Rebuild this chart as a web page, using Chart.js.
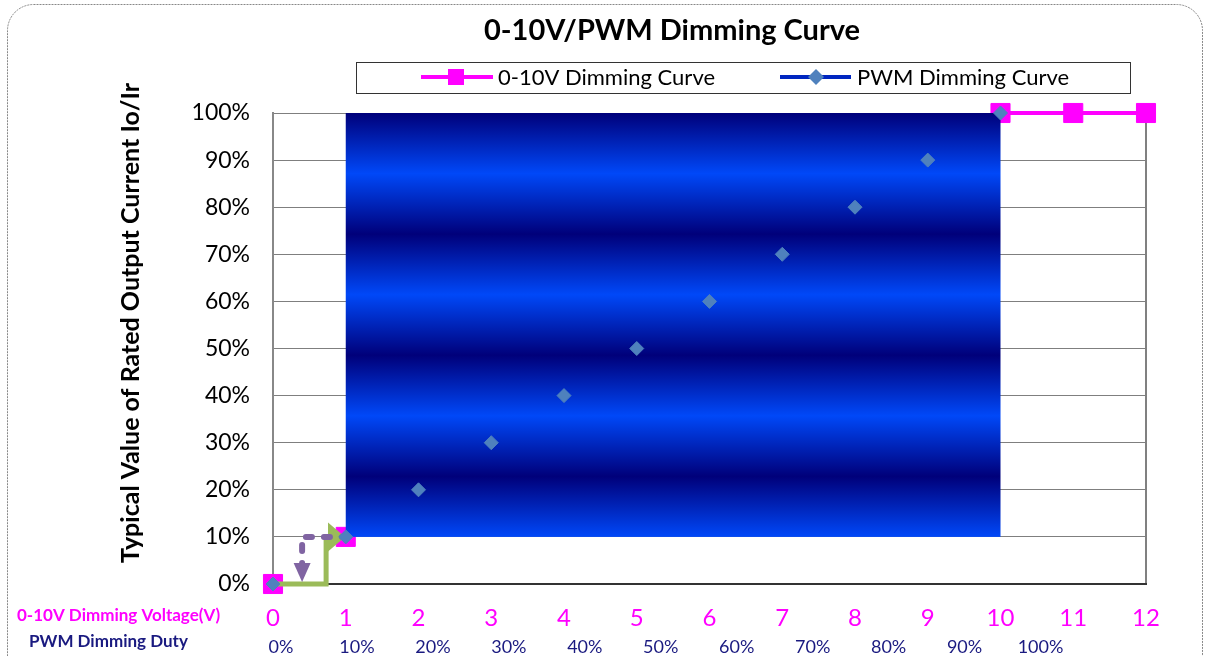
<!DOCTYPE html>
<html>
<head>
<meta charset="utf-8">
<script src="https://cdn.jsdelivr.net/npm/chart.js@4.4.1/dist/chart.umd.min.js"></script>
<style>
  html, body { margin: 0; padding: 0; background: #fff; }
  #wrap { width: 1205px; height: 656px; position: relative; }
</style>
</head>
<body>
<div id="wrap"><canvas id="dimmingChart"></canvas></div>
<script>
// values
var voltageSteps = [0, 1, 2, 3, 4, 5, 6, 7, 8, 9, 10, 11, 12];
var voltageCurve = [0, 0.1, 0.2, 0.3, 0.4, 0.5, 0.6, 0.7, 0.8, 0.9, 1, 1, 1];
var pwmSteps = [0, 1, 2, 3, 4, 5, 6, 7, 8, 9, 10];
var pwmCurve = [0, 0.1, 0.2, 0.3, 0.4, 0.5, 0.6, 0.7, 0.8, 0.9, 1];
var dutyLabels = ['0%', '10%', '20%', '30%', '40%', '50%', '60%', '70%', '80%', '90%', '100%'];
// shaded block and the two little arrows, in data units
var shadeX = [1, 10];
var shadeY = [0.1, 1];
var greenArrow = [[0, 0], [0.73, 0], [0.73, 0.1], [0.99, 0.1]];
var purpleArrow = [[1.03, 0.1], [0.4, 0.1], [0.4, 0.004]];

var FONT = 'Lato, "Open Sans", sans-serif';
var MAGENTA = '#ff00ff';
var NAVY = '#1a1a80';

function toPoints(xs, ys) {
    return xs.map(function (x, i) { return { x: x, y: ys[i] }; });
}

function drawArrow(ctx, chart, pts, color, width, dash, headLen, headHalf) {
    var xs = chart.scales.x, ys = chart.scales.y;
    var p = pts.map(function (d) { return [xs.getPixelForValue(d[0]), ys.getPixelForValue(d[1])]; });
    var tip = p[p.length - 1], prev = p[p.length - 2];
    var ang = Math.atan2(tip[1] - prev[1], tip[0] - prev[0]);
    var baseX = tip[0] - Math.cos(ang) * headLen, baseY = tip[1] - Math.sin(ang) * headLen;
    ctx.save();
    ctx.strokeStyle = color;
    ctx.lineWidth = width;
    ctx.lineJoin = 'miter';
    if (dash) { ctx.setLineDash(dash); ctx.lineCap = 'round'; }
    ctx.beginPath();
    ctx.moveTo(p[0][0], p[0][1]);
    for (var i = 1; i < p.length - 1; i++) ctx.lineTo(p[i][0], p[i][1]);
    ctx.lineTo(baseX, baseY);
    ctx.stroke();
    ctx.setLineDash([]);
    ctx.fillStyle = color;
    ctx.beginPath();
    ctx.moveTo(tip[0], tip[1]);
    ctx.lineTo(baseX - Math.sin(ang) * headHalf, baseY + Math.cos(ang) * headHalf);
    ctx.lineTo(baseX + Math.sin(ang) * headHalf, baseY - Math.cos(ang) * headHalf);
    ctx.closePath();
    ctx.fill();
    ctx.restore();
}

var decorPlugin = {
    id: 'decor',
    beforeDraw: function (chart) {
        var ctx = chart.ctx;
        ctx.save();
        ctx.fillStyle = '#fff';
        ctx.fillRect(0, 0, chart.width, chart.height);
        // dotted rounded frame
        ctx.strokeStyle = '#888';
        ctx.lineWidth = 1;
        ctx.setLineDash([2, 1]);
        ctx.beginPath();
        ctx.roundRect(7.5, 4.5, 1195, 700, 26);
        ctx.stroke();
        ctx.restore();
    },
    beforeDatasetDraw: function (chart, args) {
        if (args.index !== 1) return;
        var ctx = chart.ctx, xs = chart.scales.x, ys = chart.scales.y;
        var left = xs.getPixelForValue(shadeX[0]), right = xs.getPixelForValue(shadeX[1]);
        var top = ys.getPixelForValue(shadeY[1]), bottom = ys.getPixelForValue(shadeY[0]);
        var grad = ctx.createLinearGradient(0, top, 0, bottom);
        for (var i = 0; i <= 7; i++) {
            grad.addColorStop(i / 7, i % 2 === 0 ? '#00007a' : '#0048f8');
        }
        ctx.save();
        ctx.fillStyle = grad;
        ctx.fillRect(left, top, right - left, bottom - top);
        ctx.restore();
        drawArrow(ctx, chart, greenArrow, '#9bbb59', 5, null, 17, 14.5);
        drawArrow(ctx, chart, purpleArrow, '#8064a2', 6, [6, 12], 19, 8.5);
    },
    afterDraw: function (chart) {
        var ctx = chart.ctx, xs = chart.scales.x;
        ctx.save();
        // title
        ctx.fillStyle = '#000';
        ctx.textAlign = 'center';
        ctx.textBaseline = 'middle';
        ctx.font = 'bold 29px ' + FONT;
        ctx.fillText('0-10V/PWM Dimming Curve', 672, 31);

        // legend
        ctx.strokeStyle = '#333';
        ctx.lineWidth = 1;
        ctx.strokeRect(356.5, 62.5, 774, 31);
        ctx.font = '22px ' + FONT;
        ctx.textAlign = 'left';
        ctx.strokeStyle = MAGENTA;
        ctx.lineWidth = 4;
        ctx.beginPath(); ctx.moveTo(421, 77); ctx.lineTo(493, 77); ctx.stroke();
        ctx.fillStyle = MAGENTA;
        ctx.fillRect(448, 69, 16, 16);
        ctx.fillStyle = '#000';
        ctx.fillText('0-10V Dimming Curve', 498, 78);
        ctx.strokeStyle = '#0026c0';
        ctx.beginPath(); ctx.moveTo(780, 77); ctx.lineTo(851, 77); ctx.stroke();
        ctx.fillStyle = '#4f81bd';
        ctx.beginPath();
        ctx.moveTo(816, 69); ctx.lineTo(824, 77); ctx.lineTo(816, 85); ctx.lineTo(808, 77);
        ctx.closePath(); ctx.fill();
        ctx.fillStyle = '#000';
        ctx.fillText('PWM Dimming Curve', 857, 78);

        // y axis title
        ctx.save();
        ctx.translate(131, 323);
        ctx.rotate(-Math.PI / 2);
        ctx.textAlign = 'center';
        ctx.font = 'bold 25px ' + FONT;
        ctx.fillText('Typical Value of Rated Output Current Io/Ir', 0, 0);
        ctx.restore();

        // row captions under the axis
        ctx.textAlign = 'left';
        ctx.font = 'bold 17px ' + FONT;
        ctx.fillStyle = MAGENTA;
        ctx.fillText('0-10V Dimming Voltage(V)', 17, 616);
        ctx.fillStyle = NAVY;
        ctx.fillText('PWM Dimming Duty', 29, 642);

        // duty labels
        ctx.textAlign = 'center';
        ctx.font = '18px ' + FONT;
        dutyLabels.forEach(function (lbl, i) {
            ctx.fillText(lbl, xs.getPixelForValue(pwmSteps[i]) + 8 + 3.2 * i, 647);
        });
        ctx.restore();
    }
};

new Chart(document.getElementById('dimmingChart').getContext('2d'), {
    type: 'line',
    data: {
        datasets: [{
            label: '0-10V Dimming Curve',
            data: toPoints(voltageSteps, voltageCurve),
            borderColor: MAGENTA,
            backgroundColor: MAGENTA,
            borderWidth: 4,
            pointStyle: 'rect',
            pointRadius: 13.5,
            pointBorderWidth: 1,
            pointBorderColor: MAGENTA,
            pointBackgroundColor: MAGENTA,
            tension: 0,
            clip: false,
            segment: {
                borderColor: function (c) { return c.p0DataIndex === 0 ? 'rgba(0,0,0,0)' : undefined; }
            },
            order: 3
        }, {
            label: 'PWM Dimming Curve',
            data: toPoints(pwmSteps, pwmCurve),
            showLine: false,
            borderColor: '#0026c0',
            pointStyle: 'rectRot',
            pointRadius: 7,
            pointBorderWidth: 1,
            pointBorderColor: '#4f81bd',
            pointBackgroundColor: '#4f81bd',
            clip: false,
            order: 1
        }]
    },
    options: {
        responsive: true,
        maintainAspectRatio: false,
        animation: false,
        events: [],
        layout: { padding: { top: 113, right: 59, left: 0, bottom: 0 } },
        plugins: {
            legend: { display: false },
            title: { display: false },
            tooltip: { enabled: false }
        },
        scales: {
            x: {
                type: 'linear',
                min: 0,
                max: 12,
                ticks: {
                    stepSize: 1,
                    color: MAGENTA,
                    padding: 20,
                    font: { family: FONT, size: 24 }
                },
                grid: {
                    drawTicks: false,
                    lineWidth: 2,
                    color: function (c) { return c.tick && c.tick.value === 12 ? '#808080' : 'rgba(0,0,0,0)'; }
                },
                border: { color: '#333', width: 2 },
                afterFit: function (s) { s.height = 72; }
            },
            y: {
                min: 0,
                max: 1,
                ticks: {
                    stepSize: 0.1,
                    color: '#000',
                    padding: 23,
                    font: { family: FONT, size: 23 },
                    callback: function (v) { return Math.round(v * 100) + '%'; }
                },
                grid: { drawTicks: false, color: '#7f7f7f', lineWidth: 1 },
                border: { color: '#888', width: 2 },
                afterFit: function (s) { s.width = 273; }
            }
        }
    },
    plugins: [decorPlugin]
});
</script>
</body>
</html>
